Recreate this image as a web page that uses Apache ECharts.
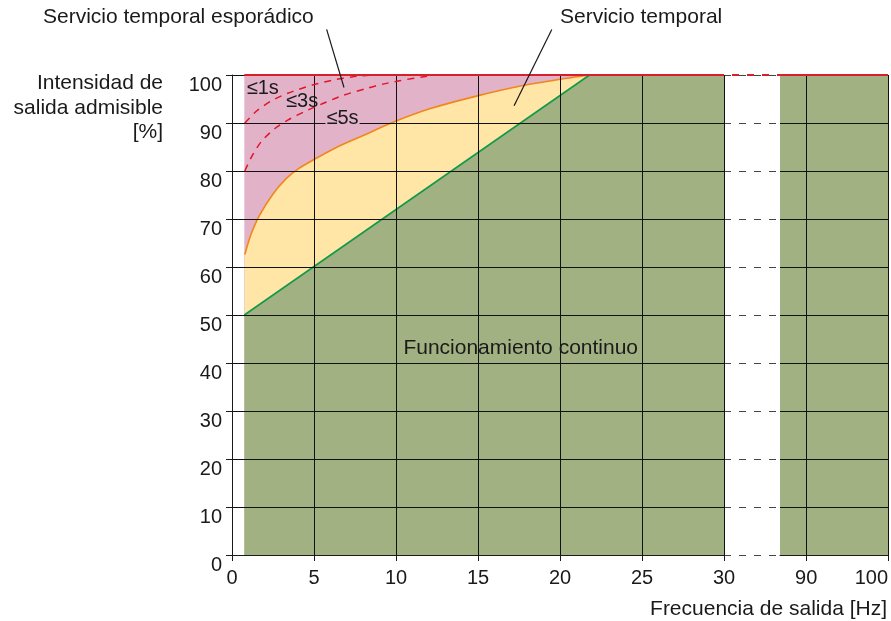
<!DOCTYPE html>
<html><head><meta charset="utf-8">
<script src="https://cdn.jsdelivr.net/npm/echarts@6/dist/echarts.min.js"></script>
<style>html,body{margin:0;padding:0;background:#fff}#c{width:891px;height:621px}</style>
</head><body><div id="c"></div>
<script>
// ---------- data ----------
const xTicksLow  = [0, 5, 10, 15, 20, 25, 30];
const xTicksHigh = [90, 100];
const yTicks     = [0, 10, 20, 30, 40, 50, 60, 70, 80, 90, 100];
const gapRange   = [30, 86.8];          // Hz range of the axis break
// upper limit (100 %)
const limitLow   = [[0.75, 100], [30, 100]];
const limitGap   = [[30, 100], [86.8, 100]];
const limitHigh  = [[86.8, 100], [100, 100]];
// continuous operation limit (green)
const continuousLow  = [[0.75, 50], [21.8, 100], [30, 100]];
const continuousHigh = [[86.8, 100], [100, 100]];
// temporary service limit (orange)
const temporalLimit = [[0.78, 62.6], [1.15, 66.7], [1.65, 70.6], [2.5, 75.2], [3.3, 78.4], [4.1, 80.6],
  [4.95, 82.3], [6.3, 84.8], [8, 87.4], [9.85, 90.2], [12.1, 93.0], [14.9, 95.6], [17.6, 97.7], [20, 99.1], [21.8, 100]];
// sporadic service curves (red dashed)
const sporadic1s = [[0.78, 90], [1.5, 92.5], [2.4, 94.6], [3.4, 96.2], [4.9, 97.9], [6.1, 98.9], [7.3, 99.6], [8.5, 100]];
const sporadic3s = [[0.78, 80], [1.2, 83], [1.8, 86.2], [2.6, 88.8], [3.4, 90.6], [4.5, 92.5], [5.5, 94], [6.8, 95.8],
  [8.2, 97.2], [9.2, 98.1], [10.2, 98.8], [11.6, 99.6], [12.4, 100]];

// ---------- styles ----------
const FONT = '"Liberation Sans", Arial, Helvetica, sans-serif';
const TXT = '#1a1a1a';
const GRIDC = '#111';
const PINK = '#E2B3C8', YELLOW = '#FFE5A6', GREEN = '#A2B182';
const ORANGE = '#F0861E', GREENLINE = '#12994A', RED = '#D8202C', REDDASH = '#E3142A';

const chart = echarts.init(document.getElementById('c'), null, {renderer: 'canvas'});

const axisLineStyle = {show: true, onZero: false, lineStyle: {color: TXT, width: 1}};
const tickStyle = {show: true, length: 6, lineStyle: {color: TXT, width: 1}};
const labelStyle = {fontSize: 20, color: TXT, fontFamily: FONT};
const split = {show: true, lineStyle: {color: GRIDC, width: 1}};

const option = {
  animation: false,
  grid: [
    {left: 232, top: 75, width: 492, height: 480, outerBoundsMode: 'none'},
    {left: 780, top: 75, width: 108, height: 480, outerBoundsMode: 'none'},
    {left: 724, top: 75, width: 56, height: 480, outerBoundsMode: 'none'}
  ],
  xAxis: [
    {gridIndex: 0, type: 'value', min: xTicksLow[0], max: xTicksLow[xTicksLow.length - 1], interval: 5, z: 5,
      axisLine: axisLineStyle, axisTick: tickStyle,
      axisLabel: Object.assign({margin: 13}, labelStyle), splitLine: split},
    {gridIndex: 1, type: 'value', min: gapRange[1], max: 100, z: 5,
      axisLine: axisLineStyle,
      axisTick: Object.assign({customValues: xTicksHigh}, tickStyle),
      axisLabel: Object.assign({margin: 13, customValues: xTicksHigh, alignMaxLabel: 'right'}, labelStyle),
      splitLine: split},
    {gridIndex: 2, type: 'value', min: gapRange[0], max: gapRange[1], show: false}
  ],
  yAxis: [
    {gridIndex: 0, type: 'value', min: 0, max: 100, interval: 10, z: 5,
      axisLine: axisLineStyle, axisTick: tickStyle,
      axisLabel: Object.assign({margin: 10, verticalAlign: 'top', customValues: yTicks}, labelStyle),
      splitLine: split},
    {gridIndex: 1, type: 'value', min: 0, max: 100, interval: 10, z: 5,
      axisLine: {show: false}, axisTick: {show: false}, axisLabel: {show: false}, splitLine: split},
    {gridIndex: 2, type: 'value', min: 0, max: 100, interval: 10, z: 5,
      axisLine: {show: false}, axisTick: {show: false}, axisLabel: {show: false},
      splitLine: {show: true, lineStyle: {color: '#444', width: 1, type: [7, 8]}}}
  ],
  series: [
    // pink area (sporadic temporary service)
    {type: 'line', xAxisIndex: 0, yAxisIndex: 0, data: limitLow, symbol: 'none', z: 2,
      lineStyle: {width: 0}, areaStyle: {color: PINK, opacity: 1}},
    // yellow area (temporary service)
    {type: 'line', xAxisIndex: 0, yAxisIndex: 0, data: temporalLimit, symbol: 'none', z: 2,
      smooth: 0.25,
      lineStyle: {color: ORANGE, width: 1.6}, areaStyle: {color: YELLOW, opacity: 1}},
    // green area (continuous operation)
    {type: 'line', xAxisIndex: 0, yAxisIndex: 0, data: continuousLow, symbol: 'none', z: 2,
      lineStyle: {color: GREENLINE, width: 1.6}, areaStyle: {color: GREEN, opacity: 1}},
    {type: 'line', xAxisIndex: 1, yAxisIndex: 1, data: continuousHigh, symbol: 'none', z: 2,
      lineStyle: {width: 0}, areaStyle: {color: GREEN, opacity: 1}},
    // dashed sporadic curves
    {type: 'line', xAxisIndex: 0, yAxisIndex: 0, data: sporadic1s, symbol: 'none', z: 6,
      smooth: 0.25, lineStyle: {color: REDDASH, width: 1.5, type: [7, 6]}},
    {type: 'line', xAxisIndex: 0, yAxisIndex: 0, data: sporadic3s, symbol: 'none', z: 6,
      smooth: 0.25, lineStyle: {color: REDDASH, width: 1.5, type: [7, 6]}},
    // red top limit
    {type: 'line', xAxisIndex: 0, yAxisIndex: 0, data: limitLow, symbol: 'none', z: 10,
      lineStyle: {color: RED, width: 2}},
    {type: 'line', xAxisIndex: 1, yAxisIndex: 1, data: limitHigh, symbol: 'none', z: 10,
      lineStyle: {color: RED, width: 2}},
    {type: 'line', xAxisIndex: 2, yAxisIndex: 2, data: limitGap, symbol: 'none', z: 10,
      lineStyle: {color: RED, width: 2, type: [7, 8], dashOffset: 7}}
  ]
};
chart.setOption(option);

// ---------- annotations ----------
const P = (x, y) => chart.convertToPixel({gridIndex: 0}, [x, y]);
const txt = (text, x, y, align, size) => ({
  type: 'text', z: 100, x: x, y: y,
  style: {text: text, fill: TXT, font: size + 'px ' + FONT, textAlign: align, textVerticalAlign: 'middle'}
});

const inPlot = [
  {text: '≤1s', at: [0.9, 97.3]},
  {text: '≤3s', at: [3.3, 94.6]},
  {text: '≤5s', at: [5.7, 91.25], bg: true},
  {text: 'Funcionamiento continuo', at: [10.45, 43.2], size: 21}
];
const leaders = [
  {from: [5.77, 109.5], to: [6.83, 97.4]},
  {from: [19.5, 109.5], to: [17.2, 93.6]}
];
const g = [];
inPlot.forEach(o => {
  const p = P(o.at[0], o.at[1]);
  const el = txt(o.text, p[0], p[1] + 1, 'left', o.size || 20);
  if (o.bg) { el.style.backgroundColor = PINK; el.style.padding = [0, 1, 0, 1]; }
  g.push(el);
});
leaders.forEach(l => {
  const a = P(l.from[0], l.from[1]), b = P(l.to[0], l.to[1]);
  g.push({type: 'line', z: 100, shape: {x1: a[0], y1: a[1], x2: b[0], y2: b[1]},
    style: {stroke: TXT, lineWidth: 1.2}});
});
g.push(txt('Servicio temporal esporádico', 43, 17.5, 'left', 21));
g.push(txt('Servicio temporal', 560, 17.5, 'left', 21));
g.push(txt('Intensidad de', 163, 83.5, 'right', 21));
g.push(txt('salida admisible', 163, 108, 'right', 21));
g.push(txt('[%]', 163, 132.5, 'right', 21));
g.push(txt('Frecuencia de salida [Hz]', 887, 609, 'right', 21));
chart.setOption({graphic: g});
</script>
</body></html>
